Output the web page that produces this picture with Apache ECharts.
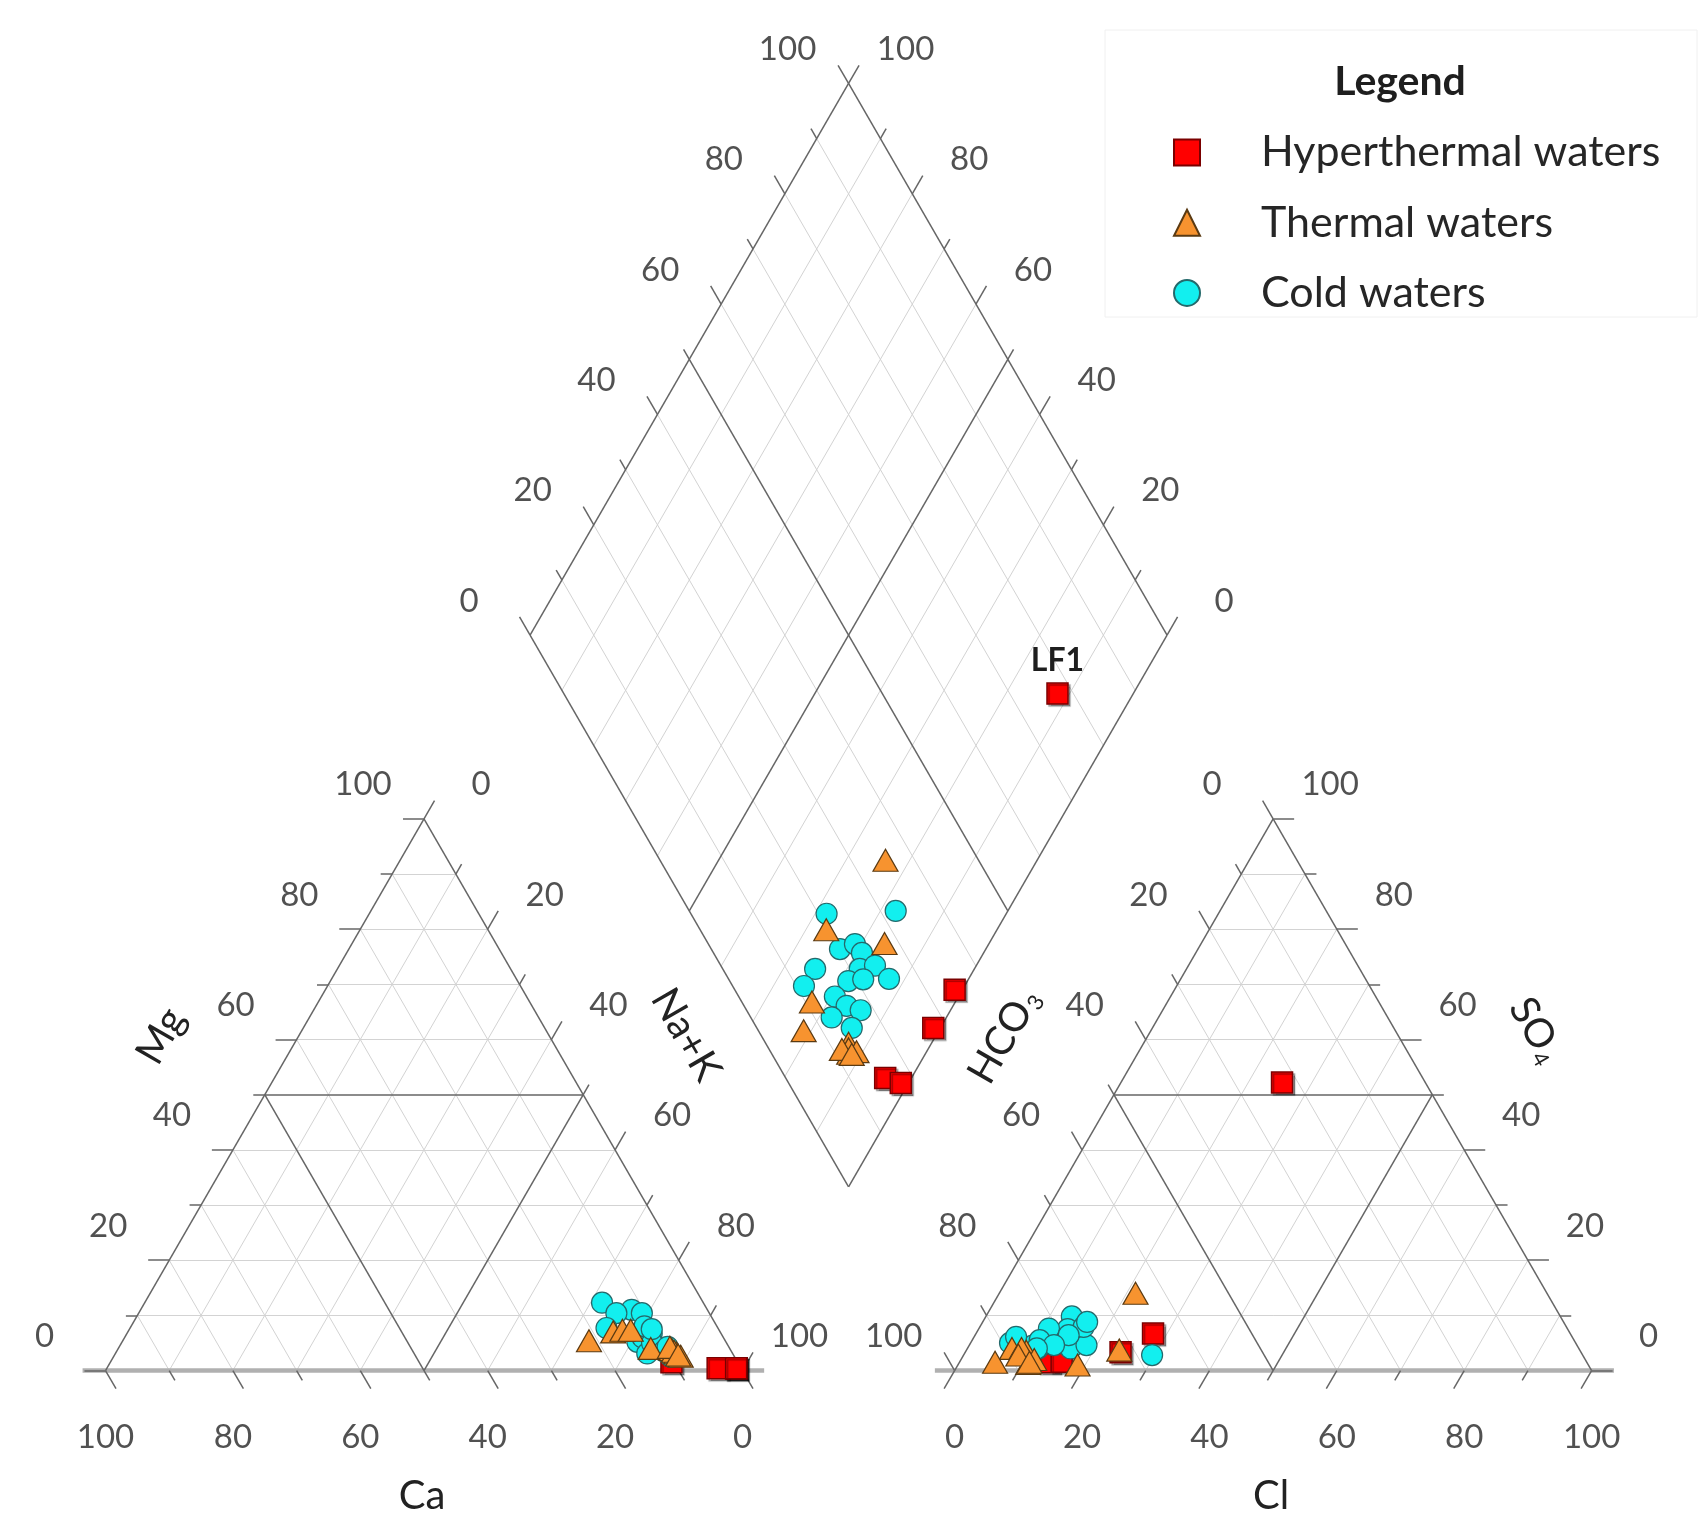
<!DOCTYPE html>
<html><head><meta charset="utf-8">
<script src="https://cdn.jsdelivr.net/npm/echarts@6/dist/echarts.min.js"></script>
<style>html,body{margin:0;padding:0;background:#fff}#c{width:1704px;height:1533px}</style>
</head><body><div id="c"></div>
<script>
// ---------------- data ----------------
const tickValues = [0, 20, 40, 60, 80, 100];
const groupNames = ['Hyperthermal waters', 'Thermal waters', 'Cold waters'];
const labelledSamples = ['LF1'];

// Hyperthermal waters (% meq): Mg, Na+K, SO4, Cl  (Ca and HCO3 are the remainders)
const hyperNames = ['LF1', 'H2', 'H3', 'H4', 'H5'];
const hyperMg  = [1.5, 0.4, 0.4, 0.4, 0.4];
const hyperNaK = [88.1, 98.8, 98.9, 95.9, 98.8];
const hyperSO4 = [52.2, 6.7, 3.3, 1.5, 1.6];
const hyperCl  = [25.3, 27.8, 24.4, 14.1, 16.0];

// Thermal waters
const thermNames = ['T1','T2','T3','T4','T5','T6','T7','T8','T9','T10','T11'];
const thermMg  = [7.0, 5.4, 4.0, 7.3, 7.3, 3.8, 3.2, 3.5, 2.6, 4.2, 2.8];
const thermNaK = [76.2, 73.2, 83.6, 77.5, 78.8, 87.0, 88.0, 87.5, 89.0, 86.5, 88.5];
const thermSO4 = [14.0, 1.0, 3.7, 4.0, 1.5, 3.5, 1.3, 4.0, 2.0, 2.8, 1.5];
const thermCl  = [21.4, 18.8, 24.0, 7.0, 5.6, 9.5, 10.9, 8.5, 11.5, 8.6, 11.0];

// Cold waters
const coldNames = ['C1','C2','C3','C4','C5','C6','C7','C8','C9','C10','C11','C12','C13','C14','C15','C16','C17'];
const coldMg  = [12.3, 6.7, 11.0, 10.4, 5.2, 10.4, 7.7, 6.7, 4.0, 2.5, 6.0, 3.1, 8.0, 5.0, 3.5, 7.5, 4.3];
const coldNaK = [71.8, 82.4, 77.1, 79.0, 80.9, 75.0, 74.8, 82.0, 84.1, 87.5, 81.3, 83.5, 80.6, 83.3, 85.9, 82.0, 86.1];
const coldSO4 = [6.4, 2.8, 4.0, 4.6, 9.8, 4.5, 5.0, 7.5, 7.9, 8.8, 7.6, 6.4, 4.0, 5.5, 4.6, 6.1, 4.0];
const coldCl  = [14.9, 29.6, 16.2, 18.4, 13.5, 10.0, 6.2, 14.0, 16.3, 16.4, 11.0, 14.7, 11.1, 10.6, 13.3, 6.6, 10.9];

// ---------------- geometry (Piper layout, in triangle-side units = 100) ----------------
const H = Math.sqrt(3) / 2;
const G = 33.3;                 // gap between the two triangles
const AX = 100 + G;             // x offset of anion triangle
const BX = 100 + G / 2, BY = G * H;   // bottom vertex of diamond
function cat(ca, mg, nak) { return [nak + mg / 2, mg * H]; }
function an(hco3, so4, cl) { return [AX + cl + so4 / 2, so4 * H]; }
function dia(a, b) { return [BX + (b - a) / 2, BY + (a + b) * H]; }

const PX = 6.37, OX = 105.5, OY = 1370.5, W = 1704, HH = 1533;

// ---------------- lines ----------------
const minorSegs = [], majorSegs = [], tickSegs = [];
for (let v = 10; v <= 90; v += 10) {
  const target = v === 50 ? majorSegs : minorSegs;
  target.push([cat(100 - v, v, 0), cat(0, v, 100 - v)]);
  target.push([cat(100 - v, 0, v), cat(0, 100 - v, v)]);
  target.push([cat(v, 0, 100 - v), cat(v, 100 - v, 0)]);
  target.push([an(100 - v, v, 0), an(0, v, 100 - v)]);
  target.push([an(100 - v, 0, v), an(0, 100 - v, v)]);
  target.push([an(v, 0, 100 - v), an(v, 100 - v, 0)]);
  target.push([dia(v, 0), dia(v, 100)]);
  target.push([dia(0, v), dia(100, v)]);
}
// outline edges
majorSegs.push([cat(100, 0, 0), cat(0, 100, 0)], [cat(0, 100, 0), cat(0, 0, 100)]);
majorSegs.push([an(100, 0, 0), an(0, 100, 0)], [an(0, 100, 0), an(0, 0, 100)]);
majorSegs.push([dia(0, 0), dia(100, 0)], [dia(100, 0), dia(100, 100)], [dia(100, 100), dia(0, 100)], [dia(0, 100), dia(0, 0)]);
const baseSegs = [[[-3.6, 0], [103.4, 0]], [[AX - 3.1, 0], [AX + 103.5, 0]]];

function tick(p, d, len) { return [p, [p[0] + d[0] * len, p[1] + d[1] * len]]; }
for (let v = 0; v <= 100; v += 10) {
  const len = v % 20 === 0 ? 3.3 : 1.8;
  tickSegs.push(tick(cat(v, 0, 100 - v), [0.5, -H], len));
  tickSegs.push(tick(cat(100 - v, v, 0), [-1, 0], len));
  tickSegs.push(tick(cat(0, 100 - v, v), [0.5, H], len));
  tickSegs.push(tick(an(100 - v, 0, v), [-0.5, -H], len));
  tickSegs.push(tick(an(0, v, 100 - v), [1, 0], len));
  tickSegs.push(tick(an(v, 100 - v, 0), [-0.5, H], len));
  tickSegs.push(tick(dia(100, v), [-0.5, H], len));
  tickSegs.push(tick(dia(v, 100), [0.5, H], len));
}

// ---------------- tick labels ----------------
const OFF_L = [-61, -34], OFF_R = [57, -34], OFF_B = [0, 67];
const tickLabelData = [];
tickValues.forEach(t => {
  tickLabelData.push({ value: [...cat(t, 0, 100 - t), String(t)], label: { offset: OFF_B } });
  tickLabelData.push({ value: [...cat(100 - t, t, 0), String(t)], label: { offset: OFF_L } });
  tickLabelData.push({ value: [...cat(0, 100 - t, t), String(t)], label: { offset: OFF_R } });
  tickLabelData.push({ value: [...an(100 - t, 0, t), String(t)], label: { offset: OFF_B } });
  tickLabelData.push({ value: [...an(t, 100 - t, 0), String(t)], label: { offset: OFF_L } });
  tickLabelData.push({ value: [...an(0, t, 100 - t), String(t)], label: { offset: OFF_R } });
  tickLabelData.push({ value: [...dia(100, t), String(t)], label: { offset: OFF_L } });
  tickLabelData.push({ value: [...dia(t, 100), String(t)], label: { offset: OFF_R } });
});

// ---------------- sample points ----------------
function buildPoints(names, mg, nak, so4, cl) {
  const out = [];
  names.forEach((nm, i) => {
    const ca = 100 - mg[i] - nak[i];
    const hco3 = 100 - so4[i] - cl[i];
    out.push({ name: nm, value: cat(ca, mg[i], nak[i]) });
    out.push({ name: nm, value: an(hco3, so4[i], cl[i]) });
    const d = { name: nm, value: dia(ca + mg[i], so4[i] + cl[i]) };
    if (labelledSamples.includes(nm)) {
      d.label = { show: true, formatter: nm, position: 'top', distance: 6,
        fontFamily: 'Lato', fontWeight: 'bold', fontSize: 32, color: '#1e1e1e' };
    }
    out.push(d);
  });
  return out;
}

const font = 'Lato';
const chart = echarts.init(document.getElementById('c'), null, { renderer: 'canvas' });

function linesSeries(segs, color, width, z) {
  return { type: 'lines', coordinateSystem: 'cartesian2d', silent: true, z: z, polyline: false,
    data: segs.map(s => ({ coords: s })), lineStyle: { color: color, width: width, opacity: 1 }, animation: false };
}

chart.setOption({
  animation: false,
  backgroundColor: '#ffffff',
  textStyle: { fontFamily: font },
  grid: { left: 0, top: 0, right: 0, bottom: 0 },
  xAxis: { type: 'value', min: -OX / PX, max: (W - OX) / PX, show: false },
  yAxis: { type: 'value', min: -(HH - OY) / PX, max: OY / PX, show: false },
  legend: {
    orient: 'vertical', left: 1168, top: 126, itemWidth: 26, itemHeight: 26, itemGap: 27.2,
    selectedMode: false,
    textStyle: { fontFamily: font, fontSize: 43, color: '#262626', padding: [0, 0, 0, 56] },
    data: [
      { name: groupNames[0], icon: 'rect' },
      { name: groupNames[1], icon: 'triangle' },
      { name: groupNames[2], icon: 'circle' }
    ]
  },
  graphic: [
    { type: 'rect', shape: { x: 1105, y: 30, width: 592, height: 287 }, style: { fill: 'none', stroke: '#f0f0f0', lineWidth: 1 }, z: 0 },
    { type: 'text', x: 1400, y: 82, style: { text: 'Legend', font: 'bold 41px Lato', fill: '#1e1e1e', textAlign: 'center', textVerticalAlign: 'middle' } },
    { type: 'text', x: 422, y: 1496, style: { text: 'Ca', font: '40px Lato', fill: '#222', textAlign: 'center', textVerticalAlign: 'middle' } },
    { type: 'text', x: 1271, y: 1496, style: { text: 'Cl', font: '40px Lato', fill: '#222', textAlign: 'center', textVerticalAlign: 'middle' } },
    { type: 'text', x: 161, y: 1036, rotation: Math.PI / 3, style: { text: 'Mg', font: '40px Lato', fill: '#222', textAlign: 'center', textVerticalAlign: 'middle' } },
    { type: 'text', x: 686, y: 1035, rotation: -Math.PI / 3, style: { text: 'Na+K', font: '40px Lato', fill: '#222', textAlign: 'center', textVerticalAlign: 'middle' } },
    { type: 'text', x: 1004, y: 1036, rotation: Math.PI / 3, style: { text: '{n|HCO}{s|3}', fill: '#222', textAlign: 'center', textVerticalAlign: 'middle',
        rich: { n: { fontFamily: font, fontSize: 40, color: '#222' }, s: { fontFamily: font, fontSize: 22, color: '#222', padding: [22, 0, 0, 1] } } } },
    { type: 'text', x: 1536, y: 1030, rotation: -Math.PI / 3, style: { text: '{n|SO}{s|4}', fill: '#222', textAlign: 'center', textVerticalAlign: 'middle',
        rich: { n: { fontFamily: font, fontSize: 40, color: '#222' }, s: { fontFamily: font, fontSize: 22, color: '#222', padding: [22, 0, 0, 1] } } } }
  ],
  series: [
    linesSeries(minorSegs, '#d3d3d3', 1, 1),
    linesSeries(baseSegs, '#b0b0b0', 4.5, 2),
    linesSeries(majorSegs, '#666666', 1.5, 3),
    linesSeries(tickSegs, '#666666', 1.5, 3),
    {
      type: 'scatter', silent: true, symbolSize: 0, z: 4, data: tickLabelData,
      label: { show: true, position: 'inside', formatter: p => p.value[2], fontFamily: font, fontSize: 33, color: '#262626', align: 'center', verticalAlign: 'middle' }
    },
    {
      name: groupNames[0], type: 'scatter', symbol: 'rect', symbolSize: 21, z: 10,
      itemStyle: { color: '#ff0000', borderColor: '#7a0000', borderWidth: 1.5, opacity: 1, shadowColor: 'rgba(0,0,0,0.35)', shadowOffsetX: 2, shadowOffsetY: 2, shadowBlur: 1 },
      data: buildPoints(hyperNames, hyperMg, hyperNaK, hyperSO4, hyperCl)
    },
    {
      name: groupNames[2], type: 'scatter', symbol: 'circle', symbolSize: 21, z: 11,
      itemStyle: { color: '#12efef', borderColor: '#24696b', borderWidth: 1.2, opacity: 1 },
      data: buildPoints(coldNames, coldMg, coldNaK, coldSO4, coldCl)
    },
    {
      name: groupNames[1], type: 'scatter', symbol: 'triangle', symbolSize: [25, 22], z: 12,
      itemStyle: { color: '#f7932f', borderColor: '#5a3a12', borderWidth: 1.2, opacity: 1 },
      data: buildPoints(thermNames, thermMg, thermNaK, thermSO4, thermCl)
    }
  ]
});
</script></body></html>
